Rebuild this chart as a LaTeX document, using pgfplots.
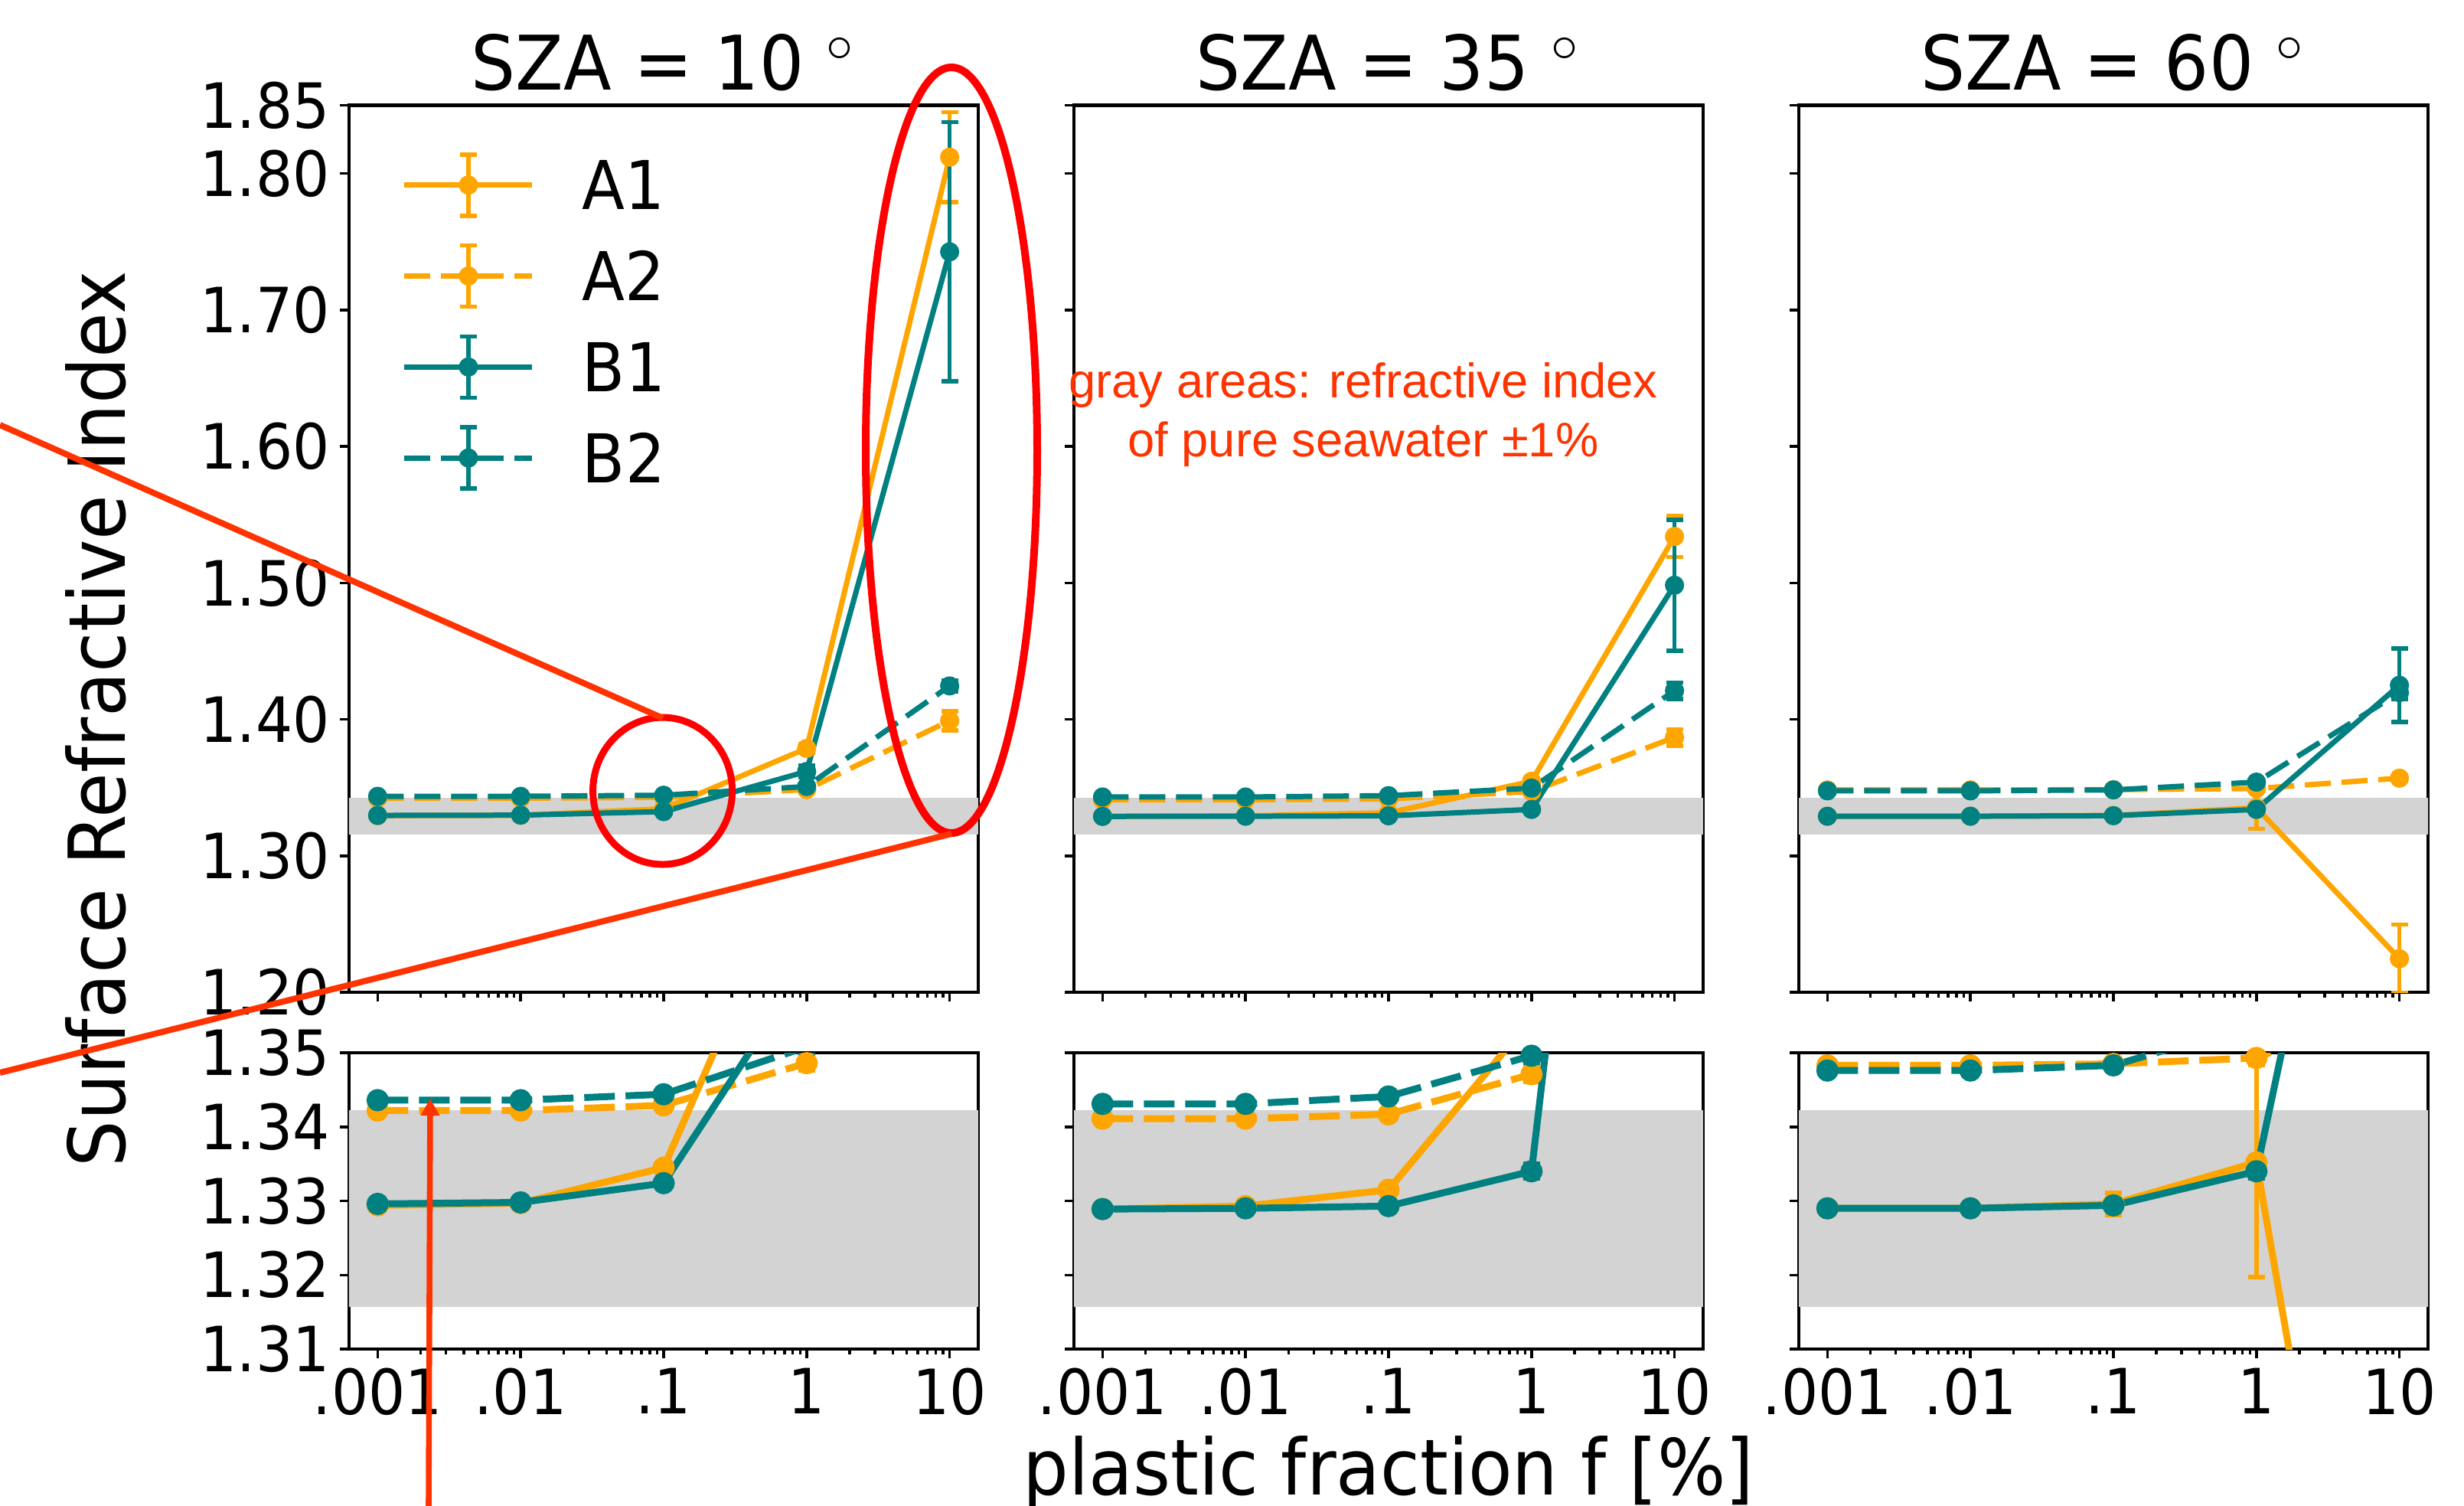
\documentclass[border=0pt]{standalone}
\usepackage{pgfplots}
\pgfplotsset{compat=1.18}
\usepackage{pgfplotstable}
\usepackage{fontspec}
\setmainfont[FakeStretch=0.93]{DejaVu Sans}
\newfontfamily\redfont{Liberation Sans}
\usetikzlibrary{arrows.meta}
\definecolor{cA}{HTML}{FFA500}
\definecolor{cB}{HTML}{008080}
\definecolor{band}{HTML}{D3D3D3}
\definecolor{annred}{RGB}{255,51,0}
\definecolor{ellred}{RGB}{255,0,0}

\pgfplotstableread{
x A1 eA1 A2 eA2 B1 eB1 B2 eB2
0.001 1.3294 0 1.3422 0 1.3296 0 1.3436 0
0.01 1.3297 0 1.3422 0 1.3298 0 1.3436 0
0.1 1.3345 0 1.3429 0 1.3324 0 1.3444 0
1 1.3787 0.003 1.3486 0.001 1.3618 0.0045 1.3508 0.001
10 1.812 0.033 1.399 0.007 1.7426 0.095 1.4245 0.004
}\tabA
\pgfplotstableread{
x A1 eA1 A2 eA2 B1 eB1 B2 eB2
0.001 1.3289 0 1.3411 0 1.3289 0 1.3431 0
0.01 1.3293 0 1.3411 0 1.3290 0 1.3431 0
0.1 1.3315 0 1.3417 0 1.3293 0 1.3441 0
1 1.3546 0.002 1.3471 0.001 1.3340 0.001 1.3496 0.001
10 1.534 0.015 1.3868 0.006 1.4983 0.048 1.421 0.006
}\tabB
\pgfplotstableread{
x A1 eA1 A2 eA2 B1 eB1 B2 eB2
0.001 1.3290 0 1.3483 0 1.3290 0 1.3476 0
0.01 1.3290 0 1.3483 0 1.3290 0 1.3476 0
0.1 1.3296 0.0015 1.3485 0 1.3294 0 1.3483 0
1 1.3352 0.0155 1.3493 0.001 1.3340 0.001 1.3540 0.001
10 1.2246 0.025 1.3569 0.002 1.4250 0.027 1.4196 0.005
}\tabC

\pgfplotsset{
  /pgfplots/rkebars/.style={
    error bars/y dir=both, error bars/y explicit,
    error bars/error bar style={line width=0.8pt, solid},
    error bars/error mark options={rotate=90, mark size=0.55mm, line width=0.8pt, solid}},
}

\newcommand{\panelplots}[4]{%
  \addplot[draw=none, fill=band, forget plot] coordinates {(1e-4,1.3157) (100,1.3157) (100,1.3423) (1e-4,1.3423)};
  \addplot[cA, line width=#2, mark=*, mark size=#3, mark options={solid}, rkebars] table[x=x, y=A1, y error=eA1]{#1};
  \addplot[cA, line width=#2, dash pattern=#4, mark=*, mark size=#3, mark options={solid}, rkebars] table[x=x, y=A2, y error=eA2]{#1};
  \addplot[cB, line width=#2, mark=*, mark size=#3, mark options={solid}, rkebars] table[x=x, y=B1, y error=eB1]{#1};
  \addplot[cB, line width=#2, dash pattern=#4, mark=*, mark size=#3, mark options={solid}, rkebars] table[x=x, y=B2, y error=eB2]{#1};
}

\begin{document}
\begin{tikzpicture}
\pgfplotsset{
  every axis/.append style={
    scale only axis, width=41.1mm,
    xmin=6.30957e-4, xmax=15.8489,
    xtick={0.001,0.01,0.1,1,10},
    tick pos=left, tick align=outside,
    major tick length=0.6mm, minor tick length=0.35mm,
    every tick/.append style={black, line width=0.5pt},
    axis line style={line width=0.6pt},
    tick label style={font=\fontsize{11.6}{13}\selectfont},
    yticklabel style={inner sep=0.6mm, /pgf/number format/.cd, fixed, fixed zerofill, precision=2, assume math mode=true},
    xticklabel style={inner sep=0.6mm},
    every axis title shift=0pt,
  },
  rktop/.style={height=57.925mm, ymin=1.2, ymax=1.85,
    ytick={1.2,1.3,1.4,1.5,1.6,1.7,1.8,1.85}, xticklabels={},
    title style={at={(0.5,1)}, anchor=base, yshift=1mm, font=\fontsize{14}{16}\selectfont}},
  rkbot/.style={height=19.35mm, ymin=1.31, ymax=1.35,
    ytick={1.31,1.32,1.33,1.34,1.35}, xticklabels={.001,.01,.1,1,10}},
}
\useasboundingbox (0,0) rectangle (160.95mm,-98.3mm);

% top row
\begin{semilogxaxis}[rktop, at={(22.8mm,-6.875mm)}, anchor=north west,
  title={SZA = 10 $^\circ$},
  legend style={draw=none, fill=none, inner sep=0pt, outer sep=0pt,
    at={(0.0839,0.947)}, anchor=north west, row sep=0mm, column sep=3.1mm,
    font=\fontsize{12.5}{14}\selectfont,
    nodes={inner sep=0pt, text height=3.7mm, text depth=2.2mm}},
  legend cell align=left,
  legend image code/.code={%
    \draw[mark repeat=2,mark phase=2,#1] plot coordinates {(0mm,0.85mm) (4.175mm,0.85mm) (8.35mm,0.85mm)};
    \draw[#1,solid,line width=0.8pt] (4.175mm,-1.15mm) -- (4.175mm,2.85mm) (3.625mm,-1.15mm) -- (4.725mm,-1.15mm) (3.625mm,2.85mm) -- (4.725mm,2.85mm);
  },
]
\panelplots{\tabA}{0.35mm}{0.45mm}{on 1.7mm off 0.7mm}
\legend{A1,A2,B1,B2}
\end{semilogxaxis}
\begin{semilogxaxis}[rktop, at={(70.15mm,-6.875mm)}, anchor=north west, yticklabels={},
  title={SZA = 35 $^\circ$}]
\panelplots{\tabB}{0.35mm}{0.45mm}{on 1.7mm off 0.7mm}
\end{semilogxaxis}
\begin{semilogxaxis}[rktop, at={(117.5mm,-6.875mm)}, anchor=north west, yticklabels={},
  title={SZA = 60 $^\circ$}]
\panelplots{\tabC}{0.35mm}{0.45mm}{on 1.7mm off 0.7mm}
\end{semilogxaxis}

% bottom row
\begin{semilogxaxis}[rkbot, at={(22.8mm,-68.75mm)}, anchor=north west]
\panelplots{\tabA}{0.45mm}{0.5mm}{on 2mm off 0.7mm}
\end{semilogxaxis}
\begin{semilogxaxis}[rkbot, at={(70.15mm,-68.75mm)}, anchor=north west, yticklabels={}]
\panelplots{\tabB}{0.45mm}{0.5mm}{on 2mm off 0.7mm}
\end{semilogxaxis}
\begin{semilogxaxis}[rkbot, at={(117.5mm,-68.75mm)}, anchor=north west, yticklabels={}]
\panelplots{\tabC}{0.45mm}{0.5mm}{on 2mm off 0.7mm}
\end{semilogxaxis}

% labels
\node[rotate=90, font=\fontsize{14.6}{16}\selectfont] at (6.25mm,-46.95mm) {Surface Refractive Index};
\node[anchor=base, font=\fontsize{14.4}{16}\selectfont] at (90.7mm,-97.6mm) {plastic fraction f [\%]};

% red annotations
\node[align=center, text=annred, font=\redfont\fontsize{9}{10.96}\selectfont, inner sep=0pt] at (89.05mm,-27.1mm) {gray areas: refractive index\\of pure seawater ±1\%};
\draw[ellred, line width=0.45mm] (43.28mm,-51.65mm) ellipse [x radius=4.55mm, y radius=4.8mm];
\draw[ellred, line width=0.5mm] (62.15mm,-29.4mm) ellipse [x radius=5.6mm, y radius=25mm];
\draw[annred, line width=0.4mm] (0mm,-27.75mm) -- (43.3mm,-46.9mm);
\draw[annred, line width=0.4mm] (0mm,-70.05mm) -- (62.15mm,-54.45mm);
\draw[annred, line width=0.38mm, -{Triangle[length=1.1mm, width=1.2mm]}] (28mm,-98.5mm) -- (28.1mm,-71.75mm);
\end{tikzpicture}
\end{document}
